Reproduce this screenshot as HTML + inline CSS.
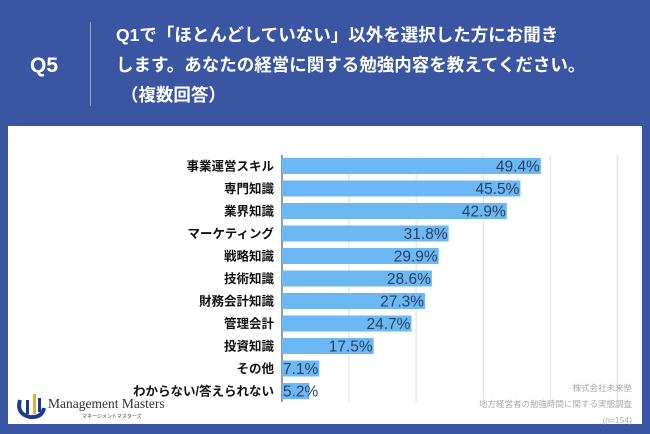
<!DOCTYPE html>
<html><head><meta charset="utf-8"><style>
body{margin:0;width:650px;height:434px;background:#3a56a3;overflow:hidden;position:relative;font-family:"Liberation Sans","Noto Sans CJK JP",sans-serif}
.hdr{position:absolute;color:#fff;font-weight:bold}
</style></head><body>
<div class="hdr" style="left:30px;top:54px;font-size:21px">Q5</div>
<div style="position:absolute;left:90px;top:22px;width:1px;height:84px;background:#8fa1d0"></div>
<div class="hdr" style="left:116px;top:20px;font-size:17.5px;line-height:30px">Q1で「ほとんどしていない」以外を選択した方にお聞き<br>します。あなたの経営に関する勉強内容を教えてください。<br>&nbsp;（複数回答）</div>
<div style="position:absolute;left:8px;top:126px;width:634px;height:298px;background:#fff"></div>
<svg id="chart" width="650" height="434" style="position:absolute;left:0;top:0"></svg>
<div style="position:absolute;left:14px;top:392px">
<svg width="32" height="28"><path d="M6 8 Q2 22 16 25 Q28 26 30 16" fill="none" stroke="#1d3a8a" stroke-width="4"/><rect x="12" y="8" width="3" height="14" fill="#1d3a8a"/><rect x="19" y="2" width="3" height="20" fill="#f0b400"/><rect x="24" y="6" width="3" height="14" fill="#1d3a8a"/></svg>
</div>
<div style="position:absolute;left:48px;top:396px;font-family:'Liberation Serif',serif;font-size:13.5px;color:#333">Management Masters</div>
<div style="position:absolute;left:82px;top:413px;font-size:5px;color:#333">マネージメントマスターズ</div>
<div style="position:absolute;right:18px;top:380px;text-align:right;font-size:8.5px;color:#aaa;line-height:16px">株式会社未来塾<br>地方経営者の勉強時間に関する実態調査<br>(n=154)</div>
<script>
const categories=["事業運営スキル","専門知識","業界知識","マーケティング","戦略知識","技術知識","財務会計知識","管理会計","投資知識","その他","わからない/答えられない"];
const values=[49.4,45.5,42.9,31.8,29.9,28.6,27.3,24.7,17.5,7.1,5.2];
const gridTicks=[0,12.8,25.6,38.4,51.2,64];
const svg=document.getElementById('chart');
const NS='http://www.w3.org/2000/svg';
const x0=282,pxPer=5.24,y0=166,step=22.5,bh=16;
const xs=v=>x0+v*pxPer, ys=i=>y0+i*step;
function mk(t,a){const e=document.createElementNS(NS,t);for(const k in a)e.setAttribute(k,a[k]);svg.appendChild(e);return e;}
gridTicks.forEach((g,i)=>{const l=mk('line',{x1:xs(g),x2:xs(g),y1:155,y2:402,stroke:i?'#ddd':'#333','stroke-width':1});

});
categories.forEach((c,i)=>{
const r=mk('rect',{x:x0,y:ys(i)-bh/2,width:values[i]*pxPer,height:bh,fill:'#6cb8f5'});


const t=mk('text',{x:274,y:ys(i)+4.5,'text-anchor':'end','font-size':12.5,'font-weight':'bold',fill:'#111'});t.textContent=c;


const v=mk('text',{x:values[i]<10?x0+1:xs(values[i])-1,y:ys(i)+5.5,'text-anchor':values[i]<10?'start':'end','font-size':15.5,fill:'#2a3f5f'});v.textContent=values[i].toFixed(1)+'%';


});
</script>
</body></html>
